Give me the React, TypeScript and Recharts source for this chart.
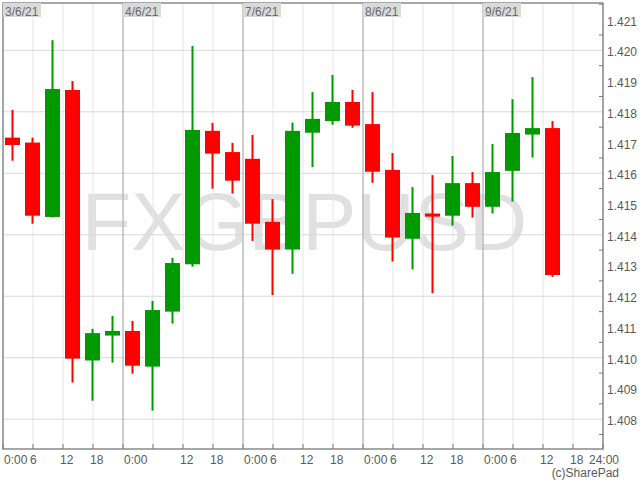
import React from "react";
import {
  ComposedChart,
  Bar,
  XAxis,
  YAxis,
  CartesianGrid,
  ReferenceLine,
  ReferenceArea,
} from "recharts";

// ---- data ----
const days = ["3/6/21", "4/6/21", "7/6/21", "8/6/21", "9/6/21"];
const slotHours = [2, 6, 10, 14, 18, 22];

const opens = [
  1.41716, 1.417, 1.41458, 1.41871, 1.40991, 1.41072,
  1.41087, 1.40971, 1.4115, 1.41304, 1.41738, 1.41669,
  1.41647, 1.41442, 1.41352, 1.41732, 1.4177, 1.41832,
  1.4176, 1.41611, 1.41387, 1.41469, 1.41462, 1.41568,
  1.41491, 1.41608, 1.41726, 1.41747,
];
const highs = [
  1.41806, 1.41716, 1.42033, 1.419, 1.41094, 1.41136,
  1.4112, 1.41185, 1.41325, 1.42014, 1.41764, 1.41699,
  1.41725, 1.41516, 1.41765, 1.41864, 1.4192, 1.41871,
  1.41864, 1.41666, 1.41555, 1.41594, 1.41656, 1.41604,
  1.41695, 1.41841, 1.41913, 1.4177,
];
const lows = [
  1.41641, 1.41436, 1.41456, 1.40919, 1.4086, 1.40984,
  1.40948, 1.40828, 1.41111, 1.41296, 1.4155, 1.41534,
  1.4138, 1.41204, 1.41273, 1.4162, 1.41758, 1.41748,
  1.41569, 1.41313, 1.41287, 1.4121, 1.4143, 1.41456,
  1.41469, 1.41508, 1.41651, 1.41263,
];
const closes = [
  1.41692, 1.41462, 1.41874, 1.40997, 1.4108, 1.41087,
  1.40974, 1.41155, 1.41308, 1.41741, 1.41664, 1.41576,
  1.41436, 1.41352, 1.41738, 1.41777, 1.41832, 1.41755,
  1.41605, 1.41391, 1.41471, 1.41459, 1.41568, 1.41491,
  1.41604, 1.41731, 1.41747, 1.41269,
];

const xTicks = [
  0, 6, 12, 18, 24, 30, 36, 42, 48, 54, 60, 66, 72, 78, 84, 90, 96, 102, 108, 114, 120,
];
const hourLabels = ["0:00", "6", "12", "18"];
const endLabel = "24:00";
const hiddenXLabels = [30];

const yTicks = [
  1.4075, 1.408, 1.4085, 1.409, 1.4095, 1.41, 1.4105, 1.411, 1.4115, 1.412, 1.4125,
  1.413, 1.4135, 1.414, 1.4145, 1.415, 1.4155, 1.416, 1.4165, 1.417, 1.4175, 1.418,
  1.4185, 1.419, 1.4195, 1.42, 1.4205, 1.421, 1.4215,
];
const gridValues = [1.408, 1.41, 1.412, 1.414, 1.416, 1.418, 1.42];
const yDomain = [1.40703, 1.42154];
const xDomain = [0, 120];

const data = opens.map((o, i) => ({
  t: Math.floor(i / 6) * 24 + slotHours[i % 6],
  open: o,
  high: highs[i],
  low: lows[i],
  close: closes[i],
}));

// ---- styles ----
const GREEN = "#009900";
const RED = "#ff0000";
const FONT = "'Liberation Sans', Arial, sans-serif";
const TEXT = "#5a5a5a";

const Candle = (props: any) => {
  const { x, y, width, height, payload } = props;
  if (x == null || y == null || !payload) return null;
  const { open, close, high, low } = payload;
  const top = Math.min(y, y + height);
  const bot = Math.max(y, y + height);
  const ratio = (bot - top) / (high - low);
  const yOf = (v: number) => top + (high - v) * ratio;
  const color = close >= open ? GREEN : RED;
  const bTop = yOf(Math.max(open, close));
  const bBot = yOf(Math.min(open, close));
  const cx = x + width / 2;
  return (
    <g>
      <line x1={cx} x2={cx} y1={top} y2={bot} stroke={color} strokeWidth={2} />
      <rect
        x={x}
        y={bTop}
        width={width}
        height={Math.max(bBot - bTop, 1)}
        fill={color}
      />
    </g>
  );
};

const XTick = (props: any) => {
  const { x, y, payload } = props;
  const v = payload.value as number;
  let label: string | null = null;
  let tx = x - 3;
  let anchor: "start" | "middle" = "start";
  if (v === 120) {
    label = endLabel;
    tx = x + 1;
    anchor = "middle";
  } else if (!hiddenXLabels.includes(v)) {
    const h = v % 24;
    label = hourLabels[h / 6];
    if (h === 0) tx = x + 1;
  }
  return (
    <g>
      <line x1={x} x2={x} y1={y - 5} y2={y} stroke="#7a7a7a" strokeWidth={1} />
      {label && (
        <text
          x={tx}
          y={y + 15}
          textAnchor={anchor}
          fontSize={12}
          fontFamily={FONT}
          fill={TEXT}
        >
          {label}
        </text>
      )}
    </g>
  );
};

const YTick = (props: any) => {
  const { x, y, payload } = props;
  const v = payload.value as number;
  const isLabel = Math.abs(v * 1000 - Math.round(v * 1000)) < 1e-6;
  if (isLabel) {
    return (
      <text
        x={x + 4}
        y={y + 6}
        textAnchor="start"
        fontSize={12}
        fontFamily={FONT}
        fill={TEXT}
      >
        {v.toFixed(3)}
      </text>
    );
  }
  return <line x1={x - 4} x2={x} y1={y} y2={y} stroke="#7a7a7a" strokeWidth={1} />;
};

const dayLabel = (text: string) => (props: any) => {
  const vb = props.viewBox || {};
  const x = vb.x ?? 0;
  const y = vb.y ?? 0;
  return (
    <g>
      <rect x={x} y={y} width={38} height={14} fill="#dadada" />
      <text x={x + 2} y={y + 13} fontSize={12} fontFamily={FONT} fill="#6a6a6a">
        {text}
      </text>
    </g>
  );
};

export default function App() {
  return (
    <div
      style={{
        position: "absolute",
        left: 0,
        top: 0,
        width: 640,
        height: 480,
        background: "#ffffff",
        overflow: "hidden",
      }}
    >
      <svg
        width={640}
        height={480}
        style={{ position: "absolute", left: 0, top: 0 }}
      >
        <text
          x={304.5}
          y={250}
          textAnchor="middle"
          fontSize={81}
          fontFamily={FONT}
          fill="#e0e0e0"
        >
          FXGBPUSD
        </text>
        <text
          x={619}
          y={477}
          textAnchor="end"
          fontSize={12}
          fontFamily={FONT}
          fill={TEXT}
        >
          (c)SharePad
        </text>
      </svg>
      <ComposedChart
        width={640}
        height={480}
        data={data}
        margin={{ top: 3, right: 0, bottom: 0, left: 3 }}
        style={{ position: "relative" }}
      >
        <CartesianGrid vertical={true} horizontal={false} stroke="#e6e6e6" />
        <CartesianGrid
          vertical={false}
          horizontal={true}
          horizontalValues={gridValues}
          stroke="#d9d9d9"
        />
        <XAxis
          dataKey="t"
          type="number"
          domain={xDomain}
          ticks={xTicks}
          interval={0}
          allowDataOverflow
          axisLine={false}
          tickLine={false}
          tickSize={0}
          tickMargin={0}
          height={31}
          tick={<XTick />}
        />
        <YAxis
          orientation="right"
          type="number"
          domain={yDomain}
          ticks={yTicks}
          interval={0}
          allowDataOverflow
          axisLine={false}
          tickLine={false}
          tickSize={0}
          tickMargin={0}
          width={37}
          tick={<YTick />}
        />
        {[24, 48, 72, 96].map((d) => (
          <ReferenceLine key={d} x={d} stroke="#a8a8a8" strokeWidth={1} />
        ))}
        <ReferenceArea
          x1={xDomain[0]}
          x2={xDomain[1]}
          y1={yDomain[0]}
          y2={yDomain[1]}
          fill="none"
          fillOpacity={0}
          stroke="#8a8a8a"
          strokeWidth={1.5}
        />
        {days.map((d, i) => (
          <ReferenceLine
            key={d}
            x={i * 24}
            stroke="none"
            label={dayLabel(d)}
          />
        ))}
        <Bar
          dataKey={(d: any) => [d.low, d.high]}
          barSize={15}
          shape={<Candle />}
          isAnimationActive={false}
        />
      </ComposedChart>
    </div>
  );
}
